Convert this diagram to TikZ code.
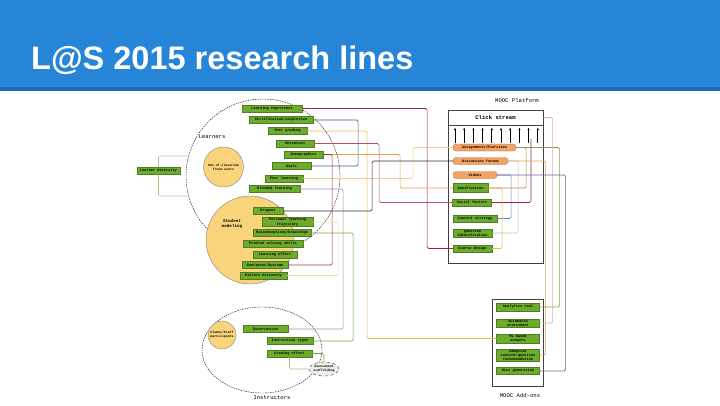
\documentclass[tikz,border=0pt]{standalone}
\usepackage{fontspec}
\setmainfont{Liberation Sans}
\newfontfamily\boxfont{Liberation Mono}
\usetikzlibrary{arrows.meta,shapes.geometric}
\definecolor{band}{HTML}{2785D8}
\definecolor{bandd}{HTML}{1F6BB3}
\definecolor{leaf}{HTML}{6CAB2E}
\definecolor{leafd}{HTML}{4E7F1E}
\definecolor{apri}{HTML}{F2A365}
\definecolor{sand}{HTML}{FAD47C}
\definecolor{lred}{HTML}{A3243B}
\definecolor{lnavy}{HTML}{3F5E8C}
\definecolor{lgold}{HTML}{E9B949}
\definecolor{lolive}{HTML}{8A9A4A}
\definecolor{lgray}{HTML}{BDBDBD}
\definecolor{lpurp}{HTML}{7D5C96}
\definecolor{lpink}{HTML}{E7A3AE}
\definecolor{lblack}{HTML}{303030}
\definecolor{lpale}{HTML}{EDE3B0}
\definecolor{lblue}{HTML}{6A86C0}
\definecolor{lorng}{HTML}{E8A050}
\tikzset{
  attr/.style={draw=leafd,fill=leaf,line width=0.3pt,inner xsep=2pt,inner ysep=0.8pt,
    minimum height=7pt,align=center,font=\boxfont\bfseries\fontsize{3.6}{4.2}\selectfont},
  comp/.style={attr,draw=apri!70!black,fill=apri,rounded corners=3pt},
  bubble/.style={circle,draw=gray,fill=sand,line width=0.4pt,inner sep=0pt,align=center,
    font=\boxfont\bfseries\fontsize{3.2}{3.8}\selectfont},
  grp/.style={draw,line width=0.4pt,dash pattern=on 1.5pt off 1pt},
  lbl/.style={inner sep=0pt,align=center,font=\boxfont\fontsize{5.6}{6.2}\selectfont},
  lnk/.style={line width=0.6pt,rounded corners=1.5pt},
}
\begin{document}
\begin{tikzpicture}[x=1pt,y=-1pt]
  \useasboundingbox (0,0) rectangle (720,405);
  \fill[band] (0,0) rectangle (720,87);
  \fill[bandd] (0,87) rectangle (720,91);
  \node[anchor=base west,inner sep=0pt,text=white,font=\bfseries\fontsize{32.5}{36}\selectfont] (title) at (31,69) {L@S 2015 research lines};

  % Learners
  \node[grp,circle,minimum size=154pt] (lcirc) at (263,176) {};
  \node[bubble,minimum size=88pt] (smcirc) at (250,240) {};
  \node[bubble,minimum size=40pt] (ybub1) at (223.5,167) {Out-of-classroom\\forum users};
  \node[lbl] (llab) at (212,137) {Learners};
  \node[lbl,font=\boxfont\bfseries\fontsize{4.2}{4.8}\selectfont] (smlab) at (232,224) {Student\\modeling};
  \node[attr,minimum width=43pt] (ldiv) at (158.5,171) {Learner diversity};
  \node[attr,minimum width=60pt] (lexp) at (272,108.5) {Learning experience};
  \node[attr,minimum width=64pt] (cert) at (281,120) {Certification/completion};
  \node[attr,minimum width=39pt] (pgrad) at (287.5,131) {Peer grading};
  \node[attr,minimum width=38pt] (reten) at (295,143.5) {Retention};
  \node[attr,minimum width=39pt] (demo) at (303.5,154.5) {Demographics};
  \node[attr,minimum width=39pt] (goals) at (291.5,166) {Goals};
  \node[attr,minimum width=38pt] (plearn) at (284,178.5) {Peer learning};
  \node[attr,minimum width=51pt] (blend) at (274.5,189) {Blended learning};
  \node[attr,minimum width=30pt] (drop) at (268,211) {Dropout};
  \node[attr,minimum width=51pt] (traj) at (287.5,222) {Personal learning\\trajectory};
  \node[attr,minimum width=58pt] (misc) at (282,233) {Misconceptions/knowledge};
  \node[attr,minimum width=60pt] (probsk) at (273,243.5) {Problem solving skills};
  \node[attr,minimum width=44pt] (leff) at (275,255) {Learning effort};
  \node[attr,minimum width=46pt] (sent) at (265,265) {Sentiment/Outcome};
  \node[attr,minimum width=47pt] (feat) at (263.5,275.5) {Pattern discovery};

  % Instructors
  \node[grp,ellipse,minimum width=120pt,minimum height=86pt] (icirc) at (262,350) {};
  \node[bubble,minimum size=28pt] (ybub2) at (222,335) {Alumni/Staff\\participants};
  \node[lbl] (ilab) at (272,398) {Instructors};
  \node[attr,minimum width=45pt] (interv) at (265.5,329) {Intervention};
  \node[attr,minimum width=46pt] (instr) at (290,341) {Instruction types};
  \node[attr,minimum width=45pt] (grad) at (289.5,353.5) {Grading effort};
  \node[ellipse,draw,dashed,fill=gray!15,line width=0.3pt,inner sep=0pt,minimum width=30pt,minimum height=14pt,align=center,
    font=\boxfont\bfseries\fontsize{3.2}{3.8}\selectfont] (assess) at (324,369) {Assessment\\scaffolding};

  % MOOC platform
  \node[draw=black!75,line width=0.5pt,minimum width=95pt,minimum height=153pt,inner sep=0pt] (plat) at (495.5,186.5) {};
  \node[draw=black!75,line width=0.5pt,minimum width=95pt,minimum height=15pt,inner sep=0pt,
    font=\boxfont\bfseries\fontsize{5.6}{6}\selectfont] (click) at (495.5,117.5) {Click stream};
  \node[lbl] (plab) at (517,100) {MOOC Platform};
  \foreach \k in {0,...,9}
    \draw[-{Latex[length=2.6pt,width=2.2pt]},line width=0.7pt] ({455+9.2*\k},143) -- ({455+9.2*\k},127.5);
  \node[comp,minimum width=63pt] (assign) at (484.5,147.5) {Assignments/Exercises};
  \node[comp,minimum width=55pt] (forum) at (480.5,161) {Discussion forums};
  \node[comp,minimum width=44pt] (videos) at (475,175) {Videos};
  \node[attr,minimum width=35pt,minimum height=9pt] (gamif) at (470.5,188) {Gamification};
  \node[attr,minimum width=39pt] (social) at (472,202.5) {Social factors};
  \node[attr,minimum width=44pt] (content) at (475,218.5) {Content strategy};
  \node[attr,minimum width=39pt] (qid) at (472.5,233) {Question\\identification};
  \node[attr,minimum width=39pt] (design) at (472.5,248.5) {Course design};
  \coordinate (rtop) at (531,139);

  % MOOC add-ons
  \node[draw=black!75,line width=0.5pt,minimum width=51pt,minimum height=87pt,inner sep=0pt] (addon) at (517.5,342.5) {};
  \node[lbl] (alab) at (520,395) {MOOC Add-ons};
  \node[attr,minimum width=43pt,minimum height=8pt] (analytics) at (518,307) {Analytics tool};
  \node[attr,minimum width=43pt] (autoas) at (518,323) {Automated\\assessment};
  \node[attr,minimum width=43pt] (mlb) at (518,338.5) {ML based\\answers};
  \node[attr,minimum width=43pt] (adapt) at (518,355) {Adaptive\\content/question\\recommendation};
  \node[attr,minimum width=43pt] (hint) at (518,371) {Hint generation};

  % links
  \draw[lnk,lolive!60] (ldiv.north) |- (lcirc.165);
  \draw[lnk,lolive!60] (ldiv.south) |- (lcirc.195);
  \draw[lnk,lred] (lexp.east) -- ++(125,0) |- (design.west);
  \draw[lnk,lnavy] (cert.east) -- ++(45,0) |- (goals.east);
  \draw[lnk,lgold] (pgrad.east) -- ++(60,0) |- (mlb.west);
  \draw[lnk,lred!80] (reten.east) -- ++(65,0) |- (social.west);
  \draw[lnk,lorng] (demo.east) -- ++(77,0) |- (gamif.west);
  \draw[lnk,lgold!70] (plearn.east) -- ++(110,0) |- (assign.west);
  \draw[lnk,lblack] (drop.east) -- ++(89,0) |- (forum.west);
  \draw[lnk,lpurp!70] (blend.east) -- ++(43,0) |- (interv.east);
  \draw[lnk,lolive] (misc.east) -- ++(42,0) |- (instr.east);
  \draw[lnk,lred!70!lpurp] (sent.east) -- ++(44,0) |- (demo.east);
  \draw[lnk,lpale] (feat.east) -- ++(51,0) |- (traj.east);
  \draw[lnk,lolive] (grad.east) -| (assess.north);
  \draw[lnk,lolive!70] (grad.south) |- (assess.west);
  \draw[lnk,lorng!80!black] (assign.east) -- ++(10,0) |- (gamif.east);
  \draw[lnk,lgray] (forum.east) -- ++(10,0) |- (qid.east);
  \draw[lnk,lblue] (videos.east) -- ++(14,0) |- (content.east);
  \draw[lnk,lred] (social.east) -| (rtop);
  \draw[lnk,lgold] (design.east) -- ++(10,0) |- (gamif.east);
  \draw[lnk,lolive] (analytics.east) -- ++(20,0) |- (assign.east);
  \draw[lnk,lpink] (autoas.east) -- ++(13,0) |- (click.east);
  \draw[lnk,lorng] (adapt.east) -- ++(6,0) |- (forum.east);
  \draw[lnk,lpurp] (hint.east) -- ++(26,0) |- (videos.east);
\end{tikzpicture}
\end{document}
